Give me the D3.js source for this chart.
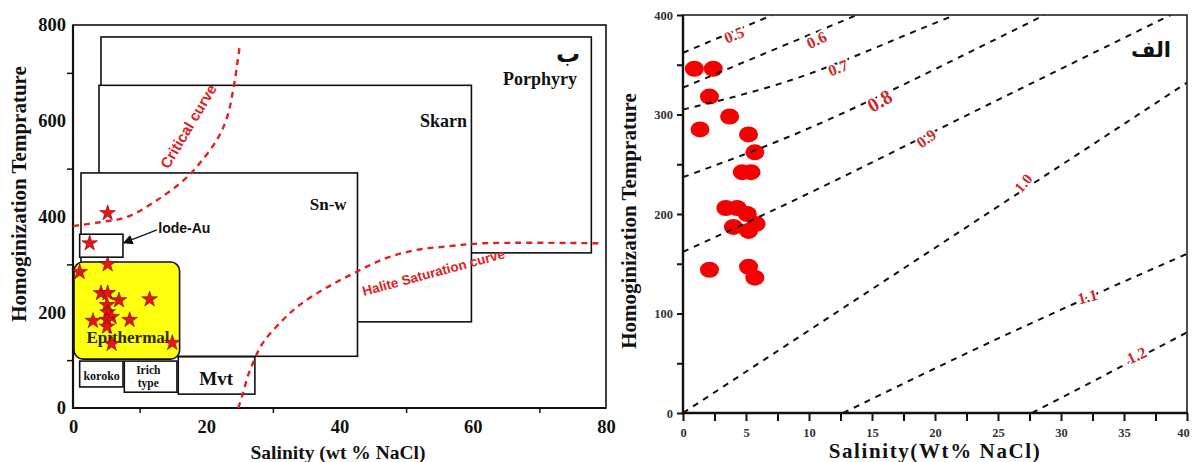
<!DOCTYPE html>
<html><head><meta charset="utf-8">
<script src="https://cdn.jsdelivr.net/npm/d3@7"></script>
<style>body{margin:0;background:#fff}svg{display:block}</style>
</head><body><svg id="c" width="1192" height="462"></svg>
<script>
// ---------- LEFT PANEL DATA ----------
const leftXTicks = [0, 20, 40, 60, 80];
const leftYTicks = [0, 200, 400, 600, 800];
const boxNames  = ["Porphyry", "Skarn", "Sn-w", "lode-Au", "koroko", "Irich type", "Mvt"];
const boxSalMin = [4.2, 3.9, 1.2, 1.0, 1.0, 7.7, 15.8];
const boxSalMax = [77.8, 59.8, 42.7, 7.5, 7.5, 15.6, 27.3];
const boxTMin   = [324, 180, 108, 315, 44, 33, 29];
const boxTMax   = [775, 674, 491, 363, 98, 98, 107];
const epiSal = [0.15, 16.0];
const epiT   = [102, 305];
const criticalCurve = [[0,380],[4,388],[8.1,399],[12.6,434],[16.8,478],[19,511],[21.6,560],[23.1,606],[24.1,669],[25,754]];
const haliteCurve = [[24.8,0],[25.5,30],[26.2,65],[27,94],[28.5,136],[31.5,184],[34,215],[38,251],[42.5,284],[47,313],[51.5,330],[56.5,338],[61.5,344],[79.5,344]];
const starSal = [5.2, 2.5, 5.2, 1.0, 4.2, 5.2, 6.9, 11.5, 5.1, 5.2, 5.8, 3.0, 8.5, 5.1, 5.1, 5.8, 14.9];
const starT   = [407, 344, 300, 284, 240, 240, 225, 227, 215, 200, 190, 182, 184, 184, 170, 134, 136];

// ---------- RIGHT PANEL DATA ----------
const rightXTicks = [0, 5, 10, 15, 20, 25, 30, 35, 40];
const rightYTicks = [0, 100, 200, 300, 400];
const circSal = [0.9, 2.4, 2.1, 1.35, 3.7, 5.2, 5.7, 4.7, 5.4, 3.4, 4.3, 5.1, 4.0, 5.2, 5.8, 2.1, 5.2, 5.7];
const circT   = [346, 346, 318, 285, 298, 280, 262, 242, 242, 206, 206, 200, 187, 183, 190, 144, 147, 136];
const isoNames = ["0.5","0.6","0.7","0.8","0.9","1.0","1.1","1.2"];
const isoLines = [
  [[0,362],[7.1,400]],
  [[0,327],[13.8,400]],
  [[0,305],[7.7,331],[21,397],[21.6,400]],
  [[0,237],[7.7,274],[25.2,378],[28.7,400]],
  [[0,162],[7.7,207],[25.2,316],[38.7,400]],
  [[0,0],[40,332]],
  [[12.7,0],[25.2,76],[40,160]],
  [[27.7,0],[40,81]]
];
const isoLabelSal = [4.05, 10.6, 12.3, 15.6, 19.3, 27.0, 32.1, 36.0];
const isoLabelT   = [380, 375, 347, 314, 276, 231, 117, 58];
const isoLabelRot = [-22, -25, -20, -30, -35, -50, -15, -25];
const isoLabelSize= [16, 16, 16, 20, 16, 15, 16, 16];

const svg = d3.select("#c");
svg.append("rect").attr("width",1192).attr("height",462).attr("fill","#fff");
const SERIF = "'Liberation Serif','Times New Roman',serif";
const SANS = "'Liberation Sans',Arial,sans-serif";

// ================= LEFT PANEL =================
const xL = d3.scaleLinear().domain([0,80]).range([73,606]);
const yL = d3.scaleLinear().domain([0,800]).range([408,25]);
const L = svg.append("g");

function box(i){
  L.append("rect")
    .attr("x", xL(boxSalMin[i])).attr("y", yL(boxTMax[i]))
    .attr("width", xL(boxSalMax[i]) - xL(boxSalMin[i]))
    .attr("height", yL(boxTMin[i]) - yL(boxTMax[i]))
    .attr("fill","#fff").attr("stroke","#111").attr("stroke-width",1.6);
}
[0,1,2,3].forEach(box);
L.append("rect")
  .attr("x", xL(epiSal[0])).attr("y", yL(epiT[1]))
  .attr("width", xL(epiSal[1]) - xL(epiSal[0]))
  .attr("height", yL(epiT[0]) - yL(epiT[1]))
  .attr("rx",9).attr("ry",9)
  .attr("fill","#ffff10").attr("stroke","#111").attr("stroke-width",1.6);
[4,5,6].forEach(box);

// frame
L.append("rect").attr("x",73).attr("y",25).attr("width",533).attr("height",383)
  .attr("fill","none").attr("stroke","#111").attr("stroke-width",1.6);
L.append("line").attr("x1",73).attr("x2",73).attr("y1",25).attr("y2",409).attr("stroke","#111").attr("stroke-width",2.2);
L.append("line").attr("x1",72).attr("x2",606).attr("y1",408).attr("y2",408).attr("stroke","#111").attr("stroke-width",2.2);

// minor ticks
const lx = L.append("g").attr("transform","translate(0,408)")
  .call(d3.axisBottom(xL).tickValues([10,30,50,70]).tickSize(5).tickSizeOuter(0).tickFormat(""));
lx.select(".domain").remove(); lx.selectAll("line").attr("stroke","#111").attr("stroke-width",1.5);
const ly = L.append("g").attr("transform","translate(73,0)")
  .call(d3.axisLeft(yL).tickValues([100,300,500,700]).tickSize(6).tickSizeOuter(0).tickFormat(""));
ly.select(".domain").remove(); ly.selectAll("line").attr("stroke","#111").attr("stroke-width",1.5);

// tick labels
const lxl = L.append("g").attr("transform","translate(0,408)")
  .call(d3.axisBottom(xL).tickValues(leftXTicks).tickSize(0).tickPadding(12));
lxl.select(".domain").remove();
lxl.selectAll("text").attr("font-family",SERIF).attr("font-weight","bold").attr("font-size",18.5).attr("fill","#111");
const lyl = L.append("g").attr("transform","translate(73,0)")
  .call(d3.axisLeft(yL).tickValues(leftYTicks).tickSize(0).tickPadding(7));
lyl.select(".domain").remove();
lyl.selectAll("text").attr("font-family",SERIF).attr("font-weight","bold").attr("font-size",18.5).attr("fill","#111");

// dashed curves
const lineL = d3.line().x(d=>xL(d[0])).y(d=>yL(d[1])).curve(d3.curveCatmullRom);
L.append("path").attr("d", lineL(criticalCurve)).attr("fill","none")
  .attr("stroke","#dd2222").attr("stroke-width",2.4).attr("stroke-dasharray","6,5");
L.append("path").attr("d", lineL(haliteCurve)).attr("fill","none")
  .attr("stroke","#dd2222").attr("stroke-width",2.4).attr("stroke-dasharray","6,5");

// curve labels
L.append("text").attr("transform",`translate(${xL(18.0)},${yL(582.8)}) rotate(-59)`)
  .attr("text-anchor","middle").attr("font-family",SANS).attr("font-weight","bold").attr("font-size",15)
  .attr("fill","#dd2222").text("Critical curve");
L.append("text").attr("transform",`translate(${xL(54.3)},${yL(273.6)}) rotate(-15)`)
  .attr("text-anchor","middle").attr("font-family",SANS).attr("font-weight","bold").attr("font-size",13.5)
  .attr("fill","#dd2222").text("Halite Saturation curve");

// box labels
function lab(t, s, T, size, anchor, fam, weight, fill){
  return L.append("text").attr("x", xL(s)).attr("y", yL(T))
    .attr("text-anchor", anchor||"middle").attr("font-family", fam||SERIF)
    .attr("font-weight", weight||"bold").attr("font-size", size).attr("fill", fill||"#111").text(t);
}
lab("Porphyry", 70.1, 674.7, 18);
lab("Skarn", 55.6, 587, 18);
lab("Sn-w", 38.3, 413.6, 17);
lab("Epithermal", 8.25, 135.8, 17, "middle", SERIF, "bold", "#2a2a10");
lab("koroko", 4.3, 58.5, 12);
lab("Irich", 11.3, 71.5, 11.5);
lab("type", 11.3, 43.5, 11.5);
lab("Mvt", 21.5, 48, 19);
lab("lode-Au", 12.8, 365.5, 14, "start", SANS, "bold");
lab("ب", 74.3, 722.7, 24, "middle", "'DejaVu Sans',sans-serif", "bold");

// arrow for lode-Au
svg.append("defs").append("marker").attr("id","ah").attr("viewBox","0 0 10 10")
  .attr("refX",9).attr("refY",5).attr("markerWidth",10).attr("markerHeight",10)
  .attr("markerUnits","userSpaceOnUse").attr("orient","auto")
  .append("path").attr("d","M0,0 L10,5 L0,10 Z").attr("fill","#111");
L.append("line").attr("x1",xL(12.6)).attr("y1",yL(372)).attr("x2",xL(7.6)).attr("y2",yL(345))
  .attr("stroke","#111").attr("stroke-width",1.3).attr("marker-end","url(#ah)");

// stars
L.selectAll("path.star").data(starSal).join("path").attr("class","star")
  .attr("transform",(d,i)=>`translate(${xL(d)},${yL(starT[i])})`)
  .attr("d", d3.symbol().type(d3.symbolStar).size(76)())
  .attr("fill","#e8141c").attr("stroke","#7a0000").attr("stroke-width",0.6);

// axis titles
L.append("text").attr("x",338).attr("y",459).attr("text-anchor","middle")
  .attr("font-family",SERIF).attr("font-weight","bold").attr("font-size",19.5).attr("fill","#111")
  .text("Salinity (wt % NaCl)");
L.append("text").attr("transform","translate(26,194) rotate(-90)").attr("text-anchor","middle")
  .attr("font-family",SERIF).attr("font-weight","bold").attr("font-size",21).attr("fill","#111")
  .text("Homoginization Temprature");

// ================= RIGHT PANEL =================
const xR = d3.scaleLinear().domain([0,40]).range([683,1187]);
const yR = d3.scaleLinear().domain([0,400]).range([413,15]);
const R = svg.append("g");
svg.select("defs").append("clipPath").attr("id","cpR").append("rect")
  .attr("x",683).attr("y",15).attr("width",504).attr("height",398);

// circles
R.selectAll("ellipse").data(circSal).join("ellipse")
  .attr("cx", d=>xR(d)).attr("cy",(d,i)=>yR(circT[i]))
  .attr("rx",9.5).attr("ry",8).attr("fill","#f40000");

// iso lines
const lineR = d3.line().x(d=>xR(d[0])).y(d=>yR(d[1])).curve(d3.curveMonotoneX);
R.append("g").attr("clip-path","url(#cpR)").selectAll("path").data(isoLines).join("path")
  .attr("d", d=>lineR(d)).attr("fill","none").attr("stroke","#111")
  .attr("stroke-width",2).attr("stroke-dasharray","6,6");

// iso labels
R.selectAll("text.iso").data(isoNames).join("text").attr("class","iso")
  .attr("transform",(d,i)=>`translate(${xR(isoLabelSal[i])},${yR(isoLabelT[i])}) rotate(${isoLabelRot[i]})`)
  .attr("text-anchor","middle").attr("dy","0.35em")
  .attr("font-family",SERIF).attr("font-weight","bold").attr("font-size",(d,i)=>isoLabelSize[i])
  .attr("fill","#cc2a2a").attr("stroke","#fff").attr("stroke-width",4).attr("paint-order","stroke")
  .text(d=>d);

// frame
R.append("rect").attr("x",683).attr("y",15).attr("width",504).attr("height",398)
  .attr("fill","none").attr("stroke","#222").attr("stroke-width",1.6);
R.append("line").attr("x1",683).attr("x2",683).attr("y1",15).attr("y2",414).attr("stroke","#111").attr("stroke-width",2.4);
R.append("line").attr("x1",682).attr("x2",1188).attr("y1",413).attr("y2",413).attr("stroke","#111").attr("stroke-width",2.4);

const rx = R.append("g").attr("transform","translate(0,413)")
  .call(d3.axisBottom(xR).tickValues(d3.range(0,40.01,2.5)).tickSize(8).tickSizeOuter(0).tickFormat(""));
rx.select(".domain").remove(); rx.selectAll("line").attr("stroke","#111").attr("stroke-width",2);
const ry = R.append("g").attr("transform","translate(683,0)")
  .call(d3.axisLeft(yR).tickValues(d3.range(0,401,50)).tickSize(6).tickSizeOuter(0).tickFormat(""));
ry.select(".domain").remove(); ry.selectAll("line").attr("stroke","#111").attr("stroke-width",2);

const rxl = R.append("g").attr("transform","translate(0,413)")
  .call(d3.axisBottom(xR).tickValues(rightXTicks).tickSize(0).tickPadding(15));
rxl.select(".domain").remove();
rxl.selectAll("text").attr("font-family",SERIF).attr("font-weight","bold").attr("font-size",12.5).attr("fill","#333")
  .attr("dx", d => d === 40 ? -4 : 0);
const ryl = R.append("g").attr("transform","translate(683,0)")
  .call(d3.axisLeft(yR).tickValues(rightYTicks).tickSize(0).tickPadding(10));
ryl.select(".domain").remove();
ryl.selectAll("text").attr("font-family",SERIF).attr("font-weight","bold").attr("font-size",12.5).attr("fill","#333");

R.append("text").attr("x",1151).attr("y",57).attr("text-anchor","middle")
  .attr("font-family","'DejaVu Sans',sans-serif").attr("font-weight","bold").attr("font-size",21).attr("fill","#111")
  .text("الف");

R.append("text").attr("x",935).attr("y",458).attr("text-anchor","middle")
  .attr("font-family",SERIF).attr("font-weight","bold").attr("font-size",21).attr("letter-spacing",1.6).attr("fill","#111")
  .text("Salinity(Wt% NaCl)");
R.append("text").attr("transform","translate(636,221) rotate(-90)").attr("text-anchor","middle")
  .attr("font-family",SERIF).attr("font-weight","bold").attr("font-size",21).attr("fill","#111")
  .text("Homoginization Temprature");
</script></body></html>
